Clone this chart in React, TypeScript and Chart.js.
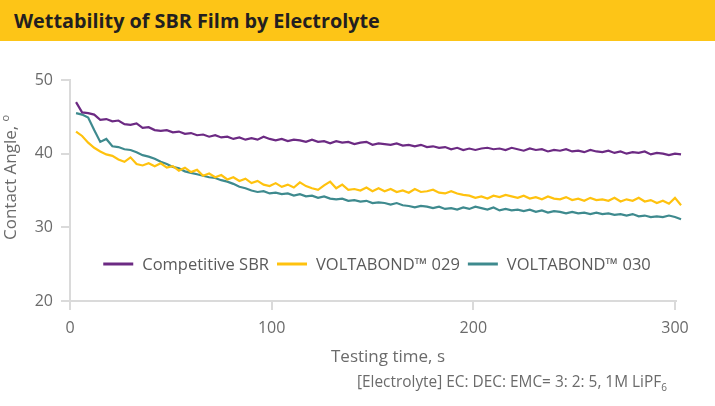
import React, { useEffect, useRef } from 'react';
import { Chart, registerables } from 'chart.js';

Chart.register(...registerables);

const TITLE = 'Wettability of SBR Film by Electrolyte';
const X_TITLE = 'Testing time, s';
const Y_TITLE = 'Contact Angle, ';
const FOOTNOTE = '[Electrolyte] EC: DEC: EMC= 3: 2: 5, 1M LiPF';

const SERIES_LABELS = ['Competitive SBR', 'VOLTABOND™ 029', 'VOLTABOND™ 030'];
const SERIES_COLORS = ['#6C2A83', '#FFC20E', '#3E8A8E'];

const X_TICKS = [0, 100, 200, 300];
const Y_TICKS = [20, 30, 40, 50];

const TIMES = [
  3, 6, 9, 12, 15, 18, 21, 24, 27, 30,
  33, 36, 39, 42, 45, 48, 51, 54, 57, 60,
  63, 66, 69, 72, 75, 78, 81, 84, 87, 90,
  93, 96, 99, 102, 105, 108, 111, 114, 117, 120,
  123, 126, 129, 132, 135, 138, 141, 144, 147, 150,
  153, 156, 159, 162, 165, 168, 171, 174, 177, 180,
  183, 186, 189, 192, 195, 198, 201, 204, 207, 210,
  213, 216, 219, 222, 225, 228, 231, 234, 237, 240,
  243, 246, 249, 252, 255, 258, 261, 264, 267, 270,
  273, 276, 279, 282, 285, 288, 291, 294, 297, 300,
  303,
];

const COMPETITIVE_SBR = [
  47.0, 45.6, 45.5, 45.3, 44.6, 44.7, 44.4, 44.5, 44.0, 43.9,
  44.1, 43.5, 43.6, 43.2, 43.1, 43.2, 42.9, 43.0, 42.7, 42.8,
  42.5, 42.6, 42.3, 42.5, 42.2, 42.3, 42.0, 42.2, 41.9, 42.1,
  41.9, 42.3, 42.0, 41.8, 42.0, 41.7, 41.9, 41.8, 41.6, 41.9,
  41.6, 41.7, 41.4, 41.7, 41.5, 41.6, 41.3, 41.5, 41.6, 41.2,
  41.4, 41.3, 41.2, 41.4, 41.1, 41.2, 41.0, 41.2, 40.9, 41.0,
  40.8, 40.9, 40.6, 40.8, 40.5, 40.7, 40.5, 40.7, 40.8, 40.6,
  40.7, 40.5, 40.8, 40.6, 40.4, 40.7, 40.5, 40.6, 40.3, 40.5,
  40.4, 40.6, 40.3, 40.4, 40.2, 40.5, 40.3, 40.2, 40.4, 40.1,
  40.3, 40.0, 40.2, 40.1, 40.3, 39.9, 40.1, 40.0, 39.8, 40.0,
  39.9,
];

const VOLTABOND_029 = [
  43.0, 42.4, 41.5, 40.8, 40.3, 39.9, 39.7, 39.2, 38.9, 39.5,
  38.6, 38.4, 38.7, 38.3, 38.7, 38.1, 38.3, 37.7, 38.1, 37.5,
  37.8, 37.0, 37.3, 36.8, 37.1, 36.5, 36.8, 36.3, 36.6, 36.0,
  36.3, 35.8, 35.6, 36.0, 35.5, 35.8, 35.4, 36.1, 35.6, 35.3,
  35.1, 35.7, 36.2, 35.3, 35.8, 35.1, 35.2, 35.0, 35.4, 34.9,
  35.3, 34.9, 35.2, 34.8, 35.0, 34.7, 35.2, 34.8, 34.9, 35.1,
  34.7, 34.6, 34.9, 34.6, 34.4, 34.3, 34.0, 34.2, 33.9, 34.3,
  34.1, 34.4, 34.2, 34.0, 34.3, 33.9, 34.1, 33.8, 34.2, 33.9,
  33.8, 34.1, 33.7, 33.9, 33.6, 34.0, 33.7, 33.8, 33.6, 34.0,
  33.5, 33.8, 33.6, 34.0, 33.5, 33.7, 33.3, 33.6, 33.2, 34.0,
  33.0,
];

const VOLTABOND_030 = [
  45.5, 45.3, 44.9, 43.2, 41.6, 42.0, 41.0, 40.9, 40.6, 40.5,
  40.2, 39.8, 39.6, 39.3, 38.9, 38.6, 38.2, 38.0, 37.6, 37.4,
  37.2, 37.0, 36.8, 36.7, 36.4, 36.2, 35.9, 35.5, 35.3, 35.0,
  34.8, 34.9, 34.6, 34.7, 34.5, 34.6, 34.3, 34.5, 34.2, 34.3,
  34.0, 34.2, 33.9, 33.8, 33.9, 33.6, 33.7, 33.5, 33.6, 33.3,
  33.4, 33.3, 33.1, 33.3, 33.0, 32.9, 32.7, 32.9, 32.8, 32.6,
  32.8, 32.5, 32.6, 32.4, 32.7, 32.5, 32.8, 32.6, 32.4, 32.7,
  32.3, 32.5, 32.3, 32.4, 32.2, 32.4, 32.1, 32.3, 32.0, 32.2,
  32.1, 31.9, 32.1, 31.9, 32.0, 31.8, 32.0, 31.8, 31.9, 31.7,
  31.8, 31.6, 31.8, 31.5, 31.6, 31.4, 31.5, 31.4, 31.6, 31.4,
  31.1,
];

const SERIES_VALUES = [COMPETITIVE_SBR, VOLTABOND_029, VOLTABOND_030];

const FONT = '"Open Sans", "Noto Sans", sans-serif';
const TEXT_GRAY = '#6b6b6b';
const AXIS_GRAY = '#dadada';

const extrasPlugin = {
  id: 'extras',
  afterDatasetsDraw(chart: any) {
    const ctx = chart.ctx as CanvasRenderingContext2D;
    // legend
    ctx.save();
    ctx.font = `16.5px ${FONT}`;
    const lineLen = 30;
    const gapLT = 9;
    const gapItem = 8;
    const widths = SERIES_LABELS.map((l) => ctx.measureText(l).width);
    const total = widths.reduce((a, w) => a + lineLen + gapLT + w, 0) + gapItem * (SERIES_LABELS.length - 1);
    let x = 377 - total / 2;
    const y = 264;
    SERIES_LABELS.forEach((label, i) => {
      ctx.strokeStyle = SERIES_COLORS[i];
      ctx.lineWidth = 3;
      ctx.beginPath();
      ctx.moveTo(x, y);
      ctx.lineTo(x + lineLen, y);
      ctx.stroke();
      x += lineLen + gapLT;
      ctx.fillStyle = '#5a5a5a';
      ctx.textAlign = 'left';
      ctx.textBaseline = 'middle';
      ctx.fillText(label, x, y + 1);
      x += widths[i] + gapItem;
    });
    ctx.restore();

    // y axis title
    ctx.save();
    ctx.fillStyle = TEXT_GRAY;
    ctx.font = `17px ${FONT}`;
    ctx.translate(16, 240);
    ctx.rotate(-Math.PI / 2);
    ctx.textAlign = 'left';
    ctx.textBaseline = 'alphabetic';
    ctx.fillText(Y_TITLE, 0, 0);
    const w = ctx.measureText(Y_TITLE).width;
    ctx.font = `11px ${FONT}`;
    ctx.fillText('o', w, -7);
    ctx.restore();

    // x axis title
    ctx.save();
    ctx.fillStyle = TEXT_GRAY;
    ctx.font = `17px ${FONT}`;
    ctx.textAlign = 'center';
    ctx.textBaseline = 'alphabetic';
    ctx.fillText(X_TITLE, 388, 362);
    ctx.restore();
  },
};

export default function App() {
  const canvasRef = useRef<HTMLCanvasElement | null>(null);

  useEffect(() => {
    if (!canvasRef.current) return;
    const chart = new Chart(canvasRef.current, {
      type: 'line',
      data: {
        datasets: SERIES_LABELS.map((label, i) => ({
          label,
          data: TIMES.map((t, j) => ({ x: t, y: SERIES_VALUES[i][j] })),
          borderColor: SERIES_COLORS[i],
          backgroundColor: SERIES_COLORS[i],
          borderWidth: 2.2,
          pointRadius: 0,
          tension: 0,
          clip: false as any,
        })),
      },
      options: {
        responsive: false,
        animation: false,
        devicePixelRatio: 1,
        layout: { padding: { top: 80, left: 0, right: 39, bottom: 65 } },
        plugins: {
          legend: { display: false },
          tooltip: { enabled: false },
          title: { display: false },
        },
        scales: {
          x: {
            type: 'linear',
            min: 0,
            max: 300.5,
            afterBuildTicks: (scale: any) => {
              scale.ticks = X_TICKS.map((v) => ({ value: v }));
            },
            afterFit: (scale: any) => {
              scale.height = 40;
            },
            ticks: {
              font: { family: FONT, size: 16 },
              color: TEXT_GRAY,
              padding: 9,
              maxRotation: 0,
              autoSkip: false,
            },
            grid: {
              drawOnChartArea: false,
              drawTicks: true,
              tickLength: 9,
              color: AXIS_GRAY,
              lineWidth: 2,
            },
            border: { display: true, color: AXIS_GRAY, width: 2 },
          },
          y: {
            type: 'linear',
            min: 20,
            max: 50,
            afterBuildTicks: (scale: any) => {
              scale.ticks = Y_TICKS.map((v) => ({ value: v }));
            },
            afterFit: (scale: any) => {
              scale.width = 70;
            },
            ticks: {
              font: { family: FONT, size: 16 },
              color: TEXT_GRAY,
              padding: 8,
            },
            grid: {
              drawOnChartArea: false,
              drawTicks: true,
              tickLength: 9,
              color: AXIS_GRAY,
              lineWidth: 2,
            },
            border: { display: true, color: AXIS_GRAY, width: 2 },
          },
        },
      },
      plugins: [extrasPlugin],
    });
    return () => chart.destroy();
  }, []);

  return (
    <div
      style={{
        position: 'absolute',
        left: 0,
        top: 0,
        width: 715,
        height: 406,
        background: '#ffffff',
        overflow: 'hidden',
      }}
    >
      <canvas
        ref={canvasRef}
        width={715}
        height={406}
        style={{ position: 'absolute', left: 0, top: 0, width: 715, height: 406 }}
      />
      <div
        style={{
          position: 'absolute',
          left: 0,
          top: 0,
          width: 715,
          height: 41,
          background: '#FDC517',
        }}
      >
        <span
          style={{
            position: 'absolute',
            left: 14,
            top: 0,
            lineHeight: '41px',
            fontFamily: FONT,
            fontWeight: 700,
            fontSize: 19.8,
            color: '#231f20',
            whiteSpace: 'nowrap',
          }}
        >
          {TITLE}
        </span>
      </div>
      <div
        style={{
          position: 'absolute',
          left: 357,
          top: 372,
          lineHeight: '20px',
          fontFamily: FONT,
          fontSize: 15.4,
          color: TEXT_GRAY,
          whiteSpace: 'nowrap',
        }}
      >
        {FOOTNOTE}
        <span style={{ position: 'relative', top: 4, fontSize: 10 }}>6</span>
      </div>
    </div>
  );
}
